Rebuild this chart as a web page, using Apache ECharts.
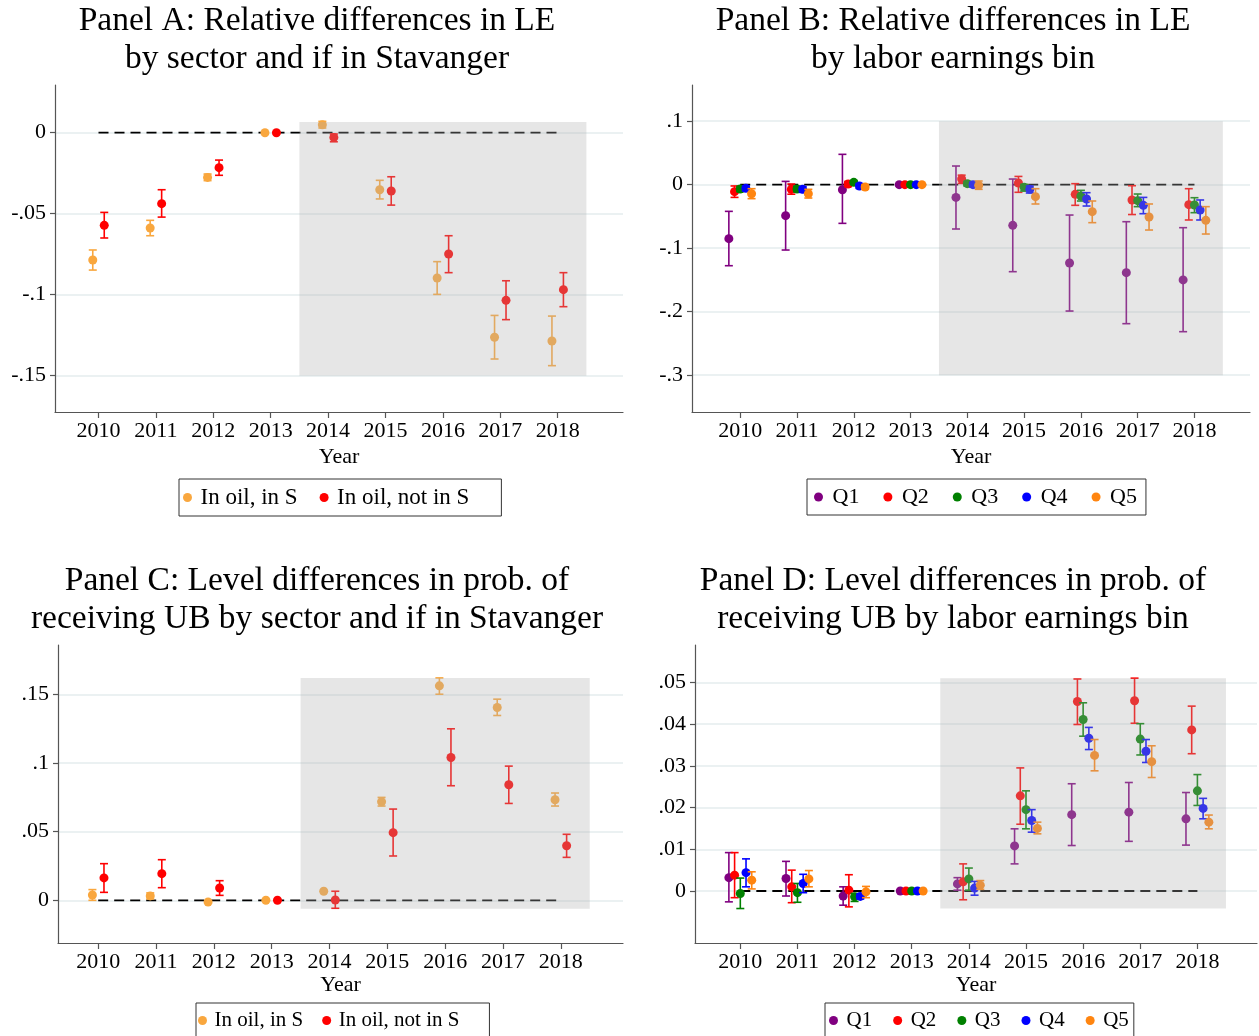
<!DOCTYPE html>
<html><head><meta charset="utf-8">
<script src="https://cdn.jsdelivr.net/npm/echarts@6/dist/echarts.min.js"></script>
<style>html,body{margin:0;padding:0;background:#fff}#c{width:1259px;height:1036px}</style>
</head><body><div id="c"></div>
<script>
// ---------- data ----------
const years = [2010, 2011, 2012, 2013, 2014, 2015, 2016, 2017, 2018];

// Panel A: relative differences in LE by sector and if in Stavanger
const aInS    = [-0.0786, -0.0588, -0.0276, 0, 0.0049, -0.0352, -0.0897, -0.1263, -0.1286];
const aInSHi  = [-0.0724, -0.0541, -0.0255, null, 0.0070, -0.0294, -0.0796, -0.1128, -0.1132];
const aInSLo  = [-0.0848, -0.0636, -0.0296, null, 0.0029, -0.0409, -0.0998, -0.1397, -0.1438];
const aNotS   = [-0.0572, -0.0438, -0.0216, 0, -0.0029, -0.0360, -0.0749, -0.1035, -0.0969];
const aNotSHi = [-0.0492, -0.0352, -0.0169, null, -0.0008, -0.0272, -0.0636, -0.0914, -0.0864];
const aNotSLo = [-0.0650, -0.0521, -0.0263, null, -0.0056, -0.0447, -0.0864, -0.1154, -0.1074];

// Panel B: relative differences in LE by labor earnings bin
const bQ1   = [-0.0850, -0.0488, -0.0079, 0, -0.0200, -0.0640, -0.1234, -0.1386, -0.1500];
const bQ1Hi = [-0.0420, 0.0052, 0.0478, null, 0.0294, 0.0089, -0.0478, -0.0583, -0.0677];
const bQ1Lo = [-0.1276, -0.1029, -0.0609, null, -0.0698, -0.1370, -0.1990, -0.2189, -0.2315];
const bQ2   = [-0.0110, -0.0073, 0.0010, 0, 0.0089, 0.0026, -0.0152, -0.0241, -0.0315];
const bQ2Hi = [-0.0020, 0.0010, 0.0050, null, 0.0150, 0.0130, 0.0016, -0.0016, -0.0063];
const bQ2Lo = [-0.0200, -0.0150, -0.0030, null, 0.0020, -0.0120, -0.0325, -0.0470, -0.0556];
const bQ3   = [-0.0068, -0.0068, 0.0037, 0, 0.0016, -0.0042, -0.0178, -0.0252, -0.0320];
const bQ3Hi = [-0.0026, -0.0026, 0.0063, null, 0.0052, 0.0005, -0.0089, -0.0147, -0.0205];
const bQ3Lo = [-0.0110, -0.0110, 0.0005, null, -0.0021, -0.0100, -0.0257, -0.0346, -0.0441];
const bQ4   = [-0.0058, -0.0073, -0.0021, 0, 0.0000, -0.0073, -0.0226, -0.0325, -0.0399];
const bQ4Hi = [-0.0021, -0.0031, 0.0016, null, 0.0037, -0.0021, -0.0126, -0.0200, -0.0241];
const bQ4Lo = [-0.0100, -0.0121, -0.0058, null, -0.0037, -0.0131, -0.0336, -0.0457, -0.0556];
const bQ5   = [-0.0142, -0.0142, -0.0037, 0, -0.0010, -0.0189, -0.0425, -0.0509, -0.0562];
const bQ5Hi = [-0.0063, -0.0073, 0.0000, null, 0.0058, -0.0063, -0.0257, -0.0304, -0.0346];
const bQ5Lo = [-0.0220, -0.0210, -0.0073, null, -0.0073, -0.0304, -0.0598, -0.0714, -0.0777];

// Panel C: level differences in prob. of receiving UB by sector and if in Stavanger
const cInS    = [0.0039, 0.0032, -0.0012, 0, 0.0066, 0.0718, 0.1563, 0.1405, 0.0733];
const cInSHi  = [0.0078, 0.0054, null, null, null, 0.0750, 0.1621, 0.1466, 0.0782];
const cInSLo  = [0.0000, 0.0010, null, null, null, 0.0687, 0.1502, 0.1347, 0.0687];
const cNotS   = [0.0163, 0.0194, 0.0090, 0, 0.0002, 0.0493, 0.1041, 0.0842, 0.0398];
const cNotSHi = [0.0267, 0.0296, 0.0143, null, 0.0066, 0.0665, 0.1250, 0.0978, 0.0481];
const cNotSLo = [0.0058, 0.0092, 0.0036, null, -0.0058, 0.0323, 0.0835, 0.0706, 0.0313];

// Panel D: level differences in prob. of receiving UB by labor earnings bin
const dQ1   = [0.0032, 0.0030, -0.0012, 0, 0.0017, 0.0108, 0.0183, 0.0189, 0.0173];
const dQ1Hi = [0.0092, 0.0071, 0.0010, null, 0.0032, 0.0149, 0.0257, 0.0260, 0.0236];
const dQ1Lo = [-0.0026, -0.0012, -0.0034, null, 0.0002, 0.0065, 0.0109, 0.0119, 0.0110];
const dQ2   = [0.0038, 0.0010, 0.0002, 0, 0.0022, 0.0228, 0.0454, 0.0456, 0.0386];
const dQ2Hi = [0.0092, 0.0050, 0.0039, null, 0.0065, 0.0295, 0.0508, 0.0510, 0.0443];
const dQ2Lo = [-0.0016, -0.0028, -0.0038, null, -0.0021, 0.0160, 0.0399, 0.0402, 0.0329];
const dQ3   = [-0.0006, -0.0004, -0.0014, 0, 0.0029, 0.0195, 0.0411, 0.0364, 0.0240];
const dQ3Hi = [0.0031, 0.0018, -0.0006, null, 0.0055, 0.0240, 0.0451, 0.0401, 0.0279];
const dQ3Lo = [-0.0042, -0.0027, -0.0025, null, 0.0002, 0.0149, 0.0371, 0.0326, 0.0205];
const dQ4   = [0.0044, 0.0018, -0.0013, 0, 0.0007, 0.0169, 0.0366, 0.0335, 0.0198];
const dQ4Hi = [0.0077, 0.0040, -0.0007, null, 0.0023, 0.0195, 0.0392, 0.0363, 0.0222];
const dQ4Lo = [0.0010, -0.0004, -0.0019, null, -0.0010, 0.0141, 0.0339, 0.0308, 0.0173];
const dQ5   = [0.0026, 0.0029, -0.0002, 0, 0.0014, 0.0150, 0.0325, 0.0310, 0.0165];
const dQ5Hi = [0.0046, 0.0049, 0.0011, null, 0.0025, 0.0165, 0.0363, 0.0348, 0.0182];
const dQ5Lo = [0.0005, 0.0010, -0.0016, null, 0.0004, 0.0137, 0.0288, 0.0272, 0.0149];

// tick values
const yTicksA = [-0.15, -0.1, -0.05, 0];
const yTicksB = [-0.3, -0.2, -0.1, 0, 0.1];
const yTicksC = [0, 0.05, 0.1, 0.15];
const yTicksD = [0, 0.01, 0.02, 0.03, 0.04, 0.05];

// shaded post-period windows [x0, x1, y0, y1]
const shadeA = [2013.5, 2018.5, -0.15, 0.0066];
const shadeB = [2013.5, 2018.5, -0.3, 0.1];
const shadeC = [2013.5, 2018.5, -0.0061, 0.162];
const shadeD = [2013.5, 2018.5, -0.0042, 0.051];

// reference line at zero
const refX = [2010, 2018];

const sectorNames = ['In oil, in S', 'In oil, not in S'];
const binNames = ['Q1', 'Q2', 'Q3', 'Q4', 'Q5'];
const sectorOffsets = [-0.1, 0.1];
const binOffsets = [-0.2, -0.1, 0, 0.1, 0.2];

// ---------- styling ----------
const SERIF = '"Liberation Serif", "DejaVu Serif", serif';
const sectorColors = ['#F9A73E', '#FF0000'];
const binColors = ['#800080', '#FF0000', '#008000', '#0000FF', '#FF8510'];

const gridsPx = [
  {left: 55, top: 85, width: 568, height: 327},
  {left: 692, top: 85, width: 558, height: 327},
  {left: 58, top: 645, width: 565, height: 298},
  {left: 695, top: 645, width: 562, height: 298}
];
const xRanges = [[2009.242, 2019.138], [2009.151, 2018.978], [2009.305, 2019.075], [2009.207, 2019.043]];
const yRanges = [[-0.17241, 0.02944], [-0.3580, 0.1570], [-0.03112, 0.18608], [-0.01246, 0.05895]];
const yTicks = [yTicksA, yTicksB, yTicksC, yTicksD];
const shades = [shadeA, shadeB, shadeC, shadeD];
const nameGaps = [34, 34, 28, 28];

function fmt(v) {
  if (Math.abs(v) < 1e-12) return '0';
  const s = String(Math.round(Math.abs(v) * 1000) / 1000).replace(/^0/, '');
  return (v < 0 ? '-' : '') + s;
}

const xAxes = [], yAxes = [];
for (let i = 0; i < 4; i++) {
  xAxes.push({
    type: 'value', gridIndex: i, min: xRanges[i][0], max: xRanges[i][1],
    axisLine: {show: true, onZero: false, lineStyle: {color: '#555', width: 1.2}},
    axisTick: {show: true, length: 6, customValues: years, lineStyle: {color: '#555', width: 1.2}},
    axisLabel: {customValues: years, formatter: v => String(Math.round(v)), fontSize: 22, fontFamily: SERIF, color: '#000', margin: 8},
    splitLine: {show: false},
    name: 'Year', nameLocation: 'middle', nameGap: nameGaps[i],
    nameTextStyle: {fontSize: 22, fontFamily: SERIF, color: '#000'}
  });
  yAxes.push({
    type: 'value', gridIndex: i, min: yRanges[i][0], max: yRanges[i][1],
    axisLine: {show: true, onZero: false, lineStyle: {color: '#555', width: 1.2}},
    axisTick: {show: true, length: 5, customValues: yTicks[i], lineStyle: {color: '#555', width: 1.2}},
    axisLabel: {customValues: yTicks[i], formatter: fmt, fontSize: 22, fontFamily: SERIF, color: '#000', margin: 9},
    splitLine: {show: true, lineStyle: {color: '#E4EDEE', width: 1.5}}
  });
}

function errRender(params, api) {
  const x = api.value(0), lo = api.value(1), hi = api.value(2);
  const p1 = api.coord([x, hi]), p2 = api.coord([x, lo]);
  const w = 4;
  const style = {stroke: api.visual('color'), lineWidth: 1.6, fill: null};
  return {type: 'group', children: [
    {type: 'line', shape: {x1: p1[0], y1: p1[1], x2: p2[0], y2: p2[1]}, style},
    {type: 'line', shape: {x1: p1[0] - w, y1: p1[1], x2: p1[0] + w, y2: p1[1]}, style},
    {type: 'line', shape: {x1: p2[0] - w, y1: p2[1], x2: p2[0] + w, y2: p2[1]}, style}
  ]};
}
function shadeRender(params, api) {
  const a = api.coord([api.value(0), api.value(3)]);
  const b = api.coord([api.value(1), api.value(2)]);
  return {type: 'rect', shape: {x: a[0], y: a[1], width: b[0] - a[0], height: b[1] - a[1]},
          style: {fill: 'rgba(175,175,175,0.31)'}, silent: true};
}

const series = [];
function addPanel(idx, names, colors, offsets, vals, his, los) {
  series.push({
    type: 'line', xAxisIndex: idx, yAxisIndex: idx, data: refX.map(x => [x, 0]),
    symbol: 'none', silent: true, z: 2,
    lineStyle: {color: '#000', width: 1.8, type: [10, 6]}
  });
  names.forEach((nm, g) => {
    const errData = [];
    years.forEach((y, k) => {
      if (his[g][k] !== null && los[g][k] !== null) errData.push([y + offsets[g], los[g][k], his[g][k]]);
    });
    series.push({
      type: 'custom', name: nm + ' CI', xAxisIndex: idx, yAxisIndex: idx, data: errData,
      renderItem: errRender, itemStyle: {color: colors[g]}, z: 3 + 2 * g, silent: true,
      encode: {x: 0, y: [1, 2]}
    });
    series.push({
      type: 'scatter', name: nm, xAxisIndex: idx, yAxisIndex: idx,
      data: years.map((y, k) => [y + offsets[g], vals[g][k]]),
      symbol: 'circle', symbolSize: 9, itemStyle: {color: colors[g], opacity: 1}, z: 4 + 2 * g
    });
  });
  series.push({
    type: 'custom', xAxisIndex: idx, yAxisIndex: idx, data: [shades[idx]],
    renderItem: shadeRender, z: 30, silent: true, encode: {x: [0, 1], y: [2, 3]}
  });
}
addPanel(0, sectorNames, sectorColors, sectorOffsets, [aInS, aNotS], [aInSHi, aNotSHi], [aInSLo, aNotSLo]);
addPanel(1, binNames, binColors, binOffsets, [bQ1, bQ2, bQ3, bQ4, bQ5], [bQ1Hi, bQ2Hi, bQ3Hi, bQ4Hi, bQ5Hi], [bQ1Lo, bQ2Lo, bQ3Lo, bQ4Lo, bQ5Lo]);
addPanel(2, sectorNames, sectorColors, sectorOffsets, [cInS, cNotS], [cInSHi, cNotSHi], [cInSLo, cNotSLo]);
addPanel(3, binNames, binColors, binOffsets, [dQ1, dQ2, dQ3, dQ4, dQ5], [dQ1Hi, dQ2Hi, dQ3Hi, dQ4Hi, dQ5Hi], [dQ1Lo, dQ2Lo, dQ3Lo, dQ4Lo, dQ5Lo]);

function legendCfg(left, top, data, fs, iw, gap, pad) {
  return {left, top, data, orient: 'horizontal', icon: 'circle', itemWidth: iw, itemHeight: 9,
          itemGap: gap, padding: pad, borderColor: '#333', borderWidth: 1, backgroundColor: '#fff',
          selectedMode: false,
          textStyle: {fontSize: fs, fontFamily: SERIF, color: '#000', lineHeight: fs}};
}

const titleFont = '33.5px ' + SERIF;
function titleText(x, y, text) {
  return {type: 'text', x, y, style: {text, align: 'center', verticalAlign: 'top', font: titleFont, lineHeight: 38, fill: '#000'}};
}

const chart = echarts.init(document.getElementById('c'), null, {renderer: 'canvas'});
chart.setOption({
  animation: false,
  backgroundColor: '#fff',
  grid: gridsPx,
  xAxis: xAxes,
  yAxis: yAxes,
  legend: [
    legendCfg(179, 479, sectorNames, 23, 16, 22, [7, 32, 7, 4]),
    legendCfg(807, 479, binNames, 22, 18, 24, [7, 9, 7, 7]),
    legendCfg(196, 1003, sectorNames, 21, 14, 19, [7, 30, 7, 2]),
    legendCfg(825, 1003, binNames, 21, 16, 21, [7, 5, 7, 4])
  ],
  graphic: [
    titleText(317, 2, 'Panel A: Relative differences in LE\nby sector and if in Stavanger'),
    titleText(953, 2, 'Panel B: Relative differences in LE\nby labor earnings bin'),
    titleText(317, 562, 'Panel C: Level differences in prob. of\nreceiving UB by sector and if in Stavanger'),
    titleText(953, 562, 'Panel D: Level differences in prob. of\nreceiving UB by labor earnings bin')
  ],
  series
});
</script></body></html>
